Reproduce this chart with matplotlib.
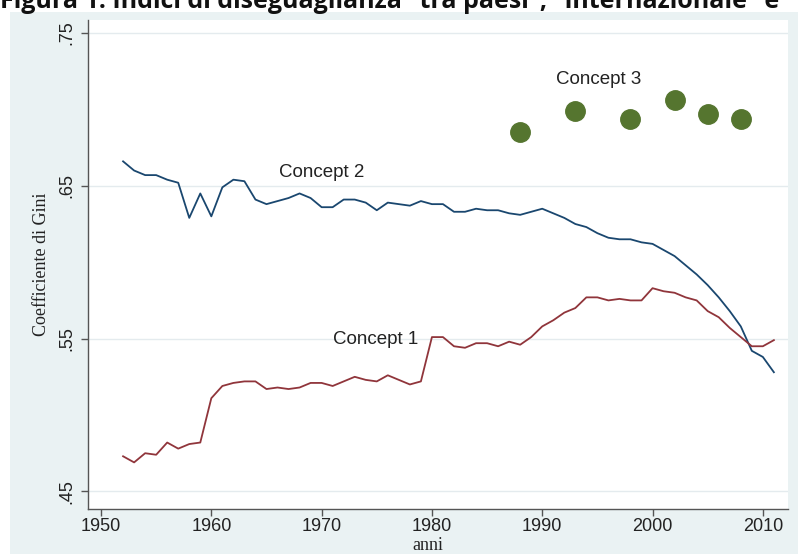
import numpy as np
import matplotlib
matplotlib.use("Agg")
import matplotlib.pyplot as plt
from matplotlib.patches import Rectangle

# data
years = list(range(1952, 2012))
concept2 = [0.666, 0.660, 0.657, 0.657, 0.654, 0.652, 0.629, 0.645, 0.630, 0.649,
            0.654, 0.653, 0.641, 0.638, 0.640, 0.642, 0.645, 0.642, 0.636, 0.636,
            0.641, 0.641, 0.639, 0.634, 0.639, 0.638, 0.637, 0.640, 0.638, 0.638,
            0.633, 0.633, 0.635, 0.634, 0.634, 0.632, 0.631, 0.633, 0.635, 0.632,
            0.629, 0.625, 0.623, 0.619, 0.616, 0.615, 0.615, 0.613, 0.612, 0.608,
            0.604, 0.598, 0.592, 0.585, 0.577, 0.568, 0.558, 0.542, 0.538, 0.528]
concept1 = [0.473, 0.469, 0.475, 0.474, 0.482, 0.478, 0.481, 0.482, 0.511, 0.519,
            0.521, 0.522, 0.522, 0.517, 0.518, 0.517, 0.518, 0.521, 0.521, 0.519,
            0.522, 0.525, 0.523, 0.522, 0.526, 0.523, 0.520, 0.522, 0.551, 0.551,
            0.545, 0.544, 0.547, 0.547, 0.545, 0.548, 0.546, 0.551, 0.558, 0.562,
            0.567, 0.570, 0.577, 0.577, 0.575, 0.576, 0.575, 0.575, 0.583, 0.581,
            0.580, 0.577, 0.575, 0.568, 0.564, 0.557, 0.551, 0.545, 0.545, 0.549]
c3_years = [1988, 1993, 1998, 2002, 2005, 2008]
concept3 = [0.685, 0.699, 0.694, 0.706, 0.697, 0.694]

xticks = [1950, 1960, 1970, 1980, 1990, 2000, 2010]
yticks = [0.45, 0.55, 0.65, 0.75]
ylabels = [".45", ".55", ".65", ".75"]

W, H = 798, 554
fig = plt.figure(figsize=(W / 100, H / 100), dpi=100, facecolor="white")

# stata-like graph region, behind the axes
fig.patches.append(Rectangle((10 / W, 0), 1, 1 - 12 / H, transform=fig.transFigure,
                             facecolor="#EAF2F3", edgecolor="none", zorder=-5))

# title is cut by the top edge in the reference
fig.text(0.0, 1 - 7.5 / H,
         "Figura 1: Indici di diseguaglianza \u201ctra paesi\u201d, \u201cinternazionale\u201d e",
         fontsize=18, fontweight="bold", family="Open Sans", color="#111111",
         va="baseline", ha="left")

ax = fig.add_axes([88 / W, (H - 509) / H, (788 - 88) / W, (509 - 20) / H])
ax.set_facecolor("white")

ax.plot(years, concept2, color="#1A476F", lw=1.3)
ax.plot(years, concept1, color="#90353B", lw=1.3)
ax.plot(c3_years, concept3, "o", color="#55752F", ms=14, mec="#55752F")

lab = dict(fontsize=13.5, family="Liberation Sans", color="#222222", ha="center", va="center")
ax.text(1970.0, 0.659, "Concept 2", **lab)
ax.text(1974.9, 0.5497, "Concept 1", **lab)
ax.text(1995.1, 0.7193, "Concept 3", **lab)

ax.set_xlim(1948.82, 2012.28)
ax.set_ylim(0.4385, 0.7585)
ax.set_xticks(xticks)
ax.set_yticks(yticks)
ax.set_yticklabels(ylabels, rotation=90, va="center")
for t in ax.get_xticklabels() + ax.get_yticklabels():
    t.set_family("Liberation Sans")
    t.set_fontsize(13)
    t.set_color("#222222")
ax.tick_params(direction="out", length=5, width=1, color="#555555")
ax.tick_params(axis="x", pad=1.5)
ax.tick_params(axis="y", pad=4)
ax.grid(axis="y", color="#E4EBEE", lw=1)
ax.set_axisbelow(True)

for s in ["top", "right"]:
    ax.spines[s].set_visible(False)
for s in ["left", "bottom"]:
    ax.spines[s].set_color("#555555")
    ax.spines[s].set_linewidth(1)

ax.set_ylabel("Coefficiente di Gini", family="Liberation Serif", fontsize=13,
              color="#222222", labelpad=6)
fig.text(428 / W, 1 - 545 / H, "anni", family="Liberation Serif", fontsize=13,
         color="#222222", ha="center", va="center")

fig.savefig("out.png", dpi=100, facecolor=fig.get_facecolor())
